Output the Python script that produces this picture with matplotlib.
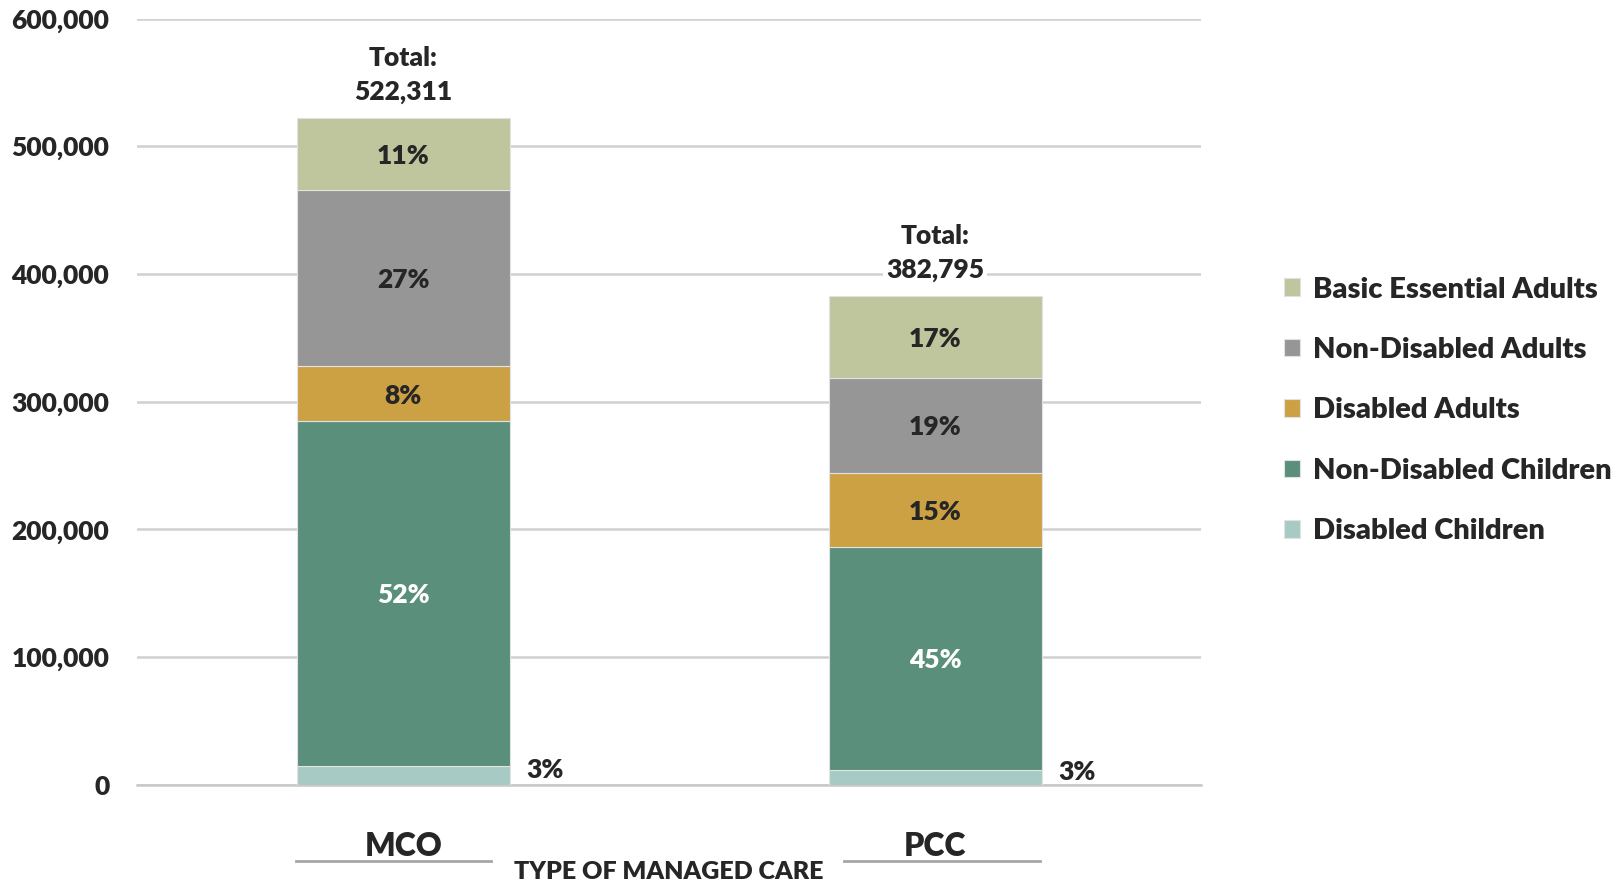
import matplotlib.pyplot as plt
import numpy as np

W = 'heavy'
plt.rcParams['font.family'] = ['Lato', 'DejaVu Sans']
plt.rcParams['font.weight'] = W
plt.rcParams['axes.labelweight'] = W

# data (enrollment counts)
plans = ['MCO', 'PCC']
groups = ['Disabled Children', 'Non-Disabled Children', 'Disabled Adults',
          'Non-Disabled Adults', 'Basic Essential Adults']
disabled_children = [14600, 12100]
non_disabled_children = [270500, 173900]
disabled_adults = [42500, 58200]
non_disabled_adults = [138500, 74400]
basic_essential_adults = [56211, 64195]
totals = [522311, 382795]

colors = ['#A7CBC4', '#5A8F7B', '#CBA143', '#969696', '#BFC59C']
label_colors = ['#262626', 'white', '#262626', '#262626', '#262626']

series = [disabled_children, non_disabled_children, disabled_adults,
          non_disabled_adults, basic_essential_adults]

fig = plt.figure(figsize=(16.2, 8.82), dpi=100)
ax = fig.add_axes([0.0846, 0.110, 0.657, 0.869])

x = np.arange(len(plans))
width = 0.4
bottom = np.zeros(len(plans))
handles = []
for i, vals in enumerate(series):
    vals = np.array(vals, dtype=float)
    b = ax.bar(x, vals, width, bottom=bottom, color=colors[i],
               edgecolor='#E2E2E2', linewidth=0.8, label=groups[i], zorder=3)
    handles.append(b)
    for j in range(len(plans)):
        pct = '%d%%' % round(vals[j] / totals[j] * 100)
        if i == 0:
            # small slice: label sits right of the bar
            ax.annotate(pct, (x[j] + width / 2, bottom[j] + vals[j] / 2),
                        xytext=(12, 4), textcoords='offset points',
                        ha='left', va='center', fontsize=19, color='#262626',
                        fontweight=W)
        else:
            ax.text(x[j], bottom[j] + vals[j] / 2 - 1500, pct, ha='center',
                    va='center', fontsize=19, color=label_colors[i], zorder=4,
                    fontweight=W)
    bottom += vals

# totals above bars
for j in range(len(plans)):
    ax.annotate('Total:\n{:,}'.format(totals[j]), (x[j], bottom[j]),
                xytext=(0, 10), textcoords='offset points', ha='center',
                va='bottom', fontsize=19, color='#262626', linespacing=1.5,
                fontweight=W,
                bbox=dict(facecolor='white', edgecolor='none', pad=2), zorder=5)

ax.set_xlim(-0.5, 1.5)
ax.set_ylim(0, 600000)
ax.set_yticks(np.arange(0, 600001, 100000))
ax.set_yticklabels(['{:,}'.format(v) for v in range(0, 600001, 100000)],
                   fontweight=W)
ax.yaxis.grid(True, color='#D0D0D0', linewidth=1.8, zorder=0)
ax.set_axisbelow(True)
for s in ['top', 'right', 'left']:
    ax.spines[s].set_visible(False)
ax.spines['bottom'].set_color('#C8C8C8')
ax.spines['bottom'].set_linewidth(1.8)
ax.tick_params(axis='y', length=0, pad=20, labelsize=19, labelcolor='#262626')
ax.tick_params(axis='x', length=0, pad=34, labelsize=23, labelcolor='#262626')
ax.set_xticks(x)
ax.set_xticklabels(plans, fontweight=W)

# underlines below category names
for x0, x1 in [(-0.201, 0.166), (0.828, 1.197)]:
    ax.plot([x0, x1], [-59600, -59600], color='#A6A6A6', lw=2, clip_on=False)

ax.set_xlabel('TYPE OF MANAGED CARE', fontsize=18, color='#262626', labelpad=0,
              fontweight=W)

fig.legend(handles[::-1], groups[::-1], loc='upper left',
           bbox_to_anchor=(0.7834, 0.703), frameon=False,
           prop={'size': 21, 'weight': W},
           handlelength=0.55, handleheight=0.55, handletextpad=0.45,
           labelspacing=1.18, borderpad=0, labelcolor='#262626')

fig.savefig('out.png', dpi=100, facecolor='white')
